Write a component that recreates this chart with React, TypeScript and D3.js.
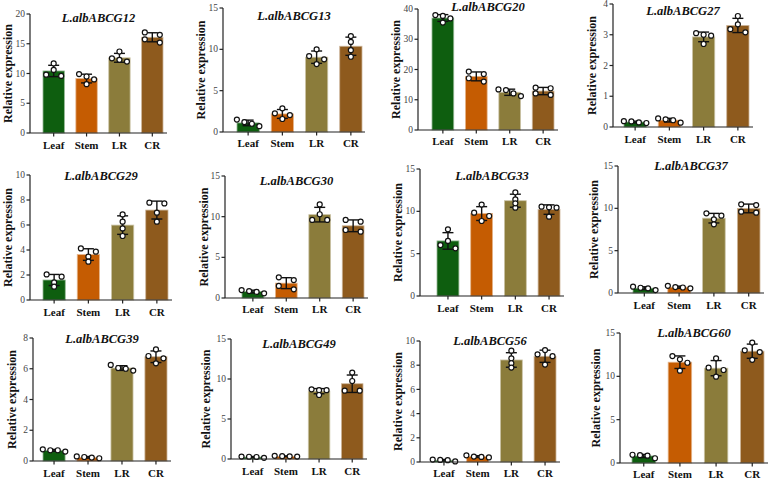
import React from 'react';
import * as d3 from 'd3';

// tissues and genes
const tissues = ['Leaf', 'Stem', 'LR', 'CR'];
const genes = [
  'L.albABCG12', 'L.albABCG13', 'L.albABCG20', 'L.albABCG27',
  'L.albABCG29', 'L.albABCG30', 'L.albABCG33', 'L.albABCG37',
  'L.albABCG39', 'L.albABCG49', 'L.albABCG56', 'L.albABCG60',
];
const yMax = [20, 15, 40, 4, 10, 15, 15, 15, 8, 15, 10, 15];
const yStep = [5, 5, 10, 1, 2, 5, 5, 5, 2, 5, 2, 5];

// replicates per tissue (Leaf, Stem, LR, CR)
const g12 = [[11.7, 10.6, 9.6, 9.8], [9.9, 9.5, 9.0, 8.2], [13.7, 12.55, 12.0, 12.3], [16.9, 16.5, 15.75, 15.2]];
const g13 = [[0.7, 1.0, 1.2, 1.5], [2.86, 2.05, 2.26, 1.57], [10.0, 9.19, 8.79, 8.22], [11.6, 10.9, 9.9, 9.1]];
const g20 = [[38.0, 37.7, 36.9, 35.5], [19.3, 18.5, 17.1, 16.0], [13.4, 13.2, 11.2, 12.1], [11.6, 14.0, 13.8, 12.1]];
const g27 = [[0.13, 0.19, 0.15, 0.18], [0.14, 0.28, 0.22, 0.25], [3.05, 3.0, 2.97, 2.7], [3.61, 3.34, 3.08, 3.18]];
const g29 = [[2.05, 1.87, 1.41, 1.07], [4.13, 3.87, 3.47, 3.07], [6.85, 6.27, 5.73, 5.12], [7.79, 7.73, 6.99, 6.27]];
const g30 = [[0.57, 0.98, 0.85, 0.75], [2.54, 2.21, 1.48, 1.07], [11.5, 10.3, 9.6, 9.6], [9.6, 9.39, 8.16, 8.36]];
const g33 = [[7.87, 6.5, 6.02, 5.63], [10.8, 9.84, 9.45, 8.86], [12.24, 11.41, 10.43, 10.94], [10.47, 10.55, 10.43, 9.37]];
const g37 = [[0.35, 0.75, 0.55, 0.62], [0.55, 0.85, 0.65, 0.7], [9.41, 9.13, 8.7, 8.11], [10.39, 10.47, 9.49, 9.6]];
const g39 = [[0.61, 0.76, 0.7, 0.7], [0.18, 0.3, 0.22, 0.26], [5.88, 6.0, 6.05, 6.25], [7.26, 6.83, 6.68, 6.35]];
const g49 = [[0.15, 0.3, 0.25, 0.28], [0.3, 0.4, 0.35, 0.33], [8.71, 8.6, 8.6, 8.0], [10.8, 9.75, 8.54, 8.54]];
const g56 = [[0.05, 0.2, 0.15, 0.17], [0.38, 0.55, 0.42, 0.45], [9.2, 8.57, 8.16, 7.8], [9.25, 8.9, 8.75, 8.05]];
const g60 = [[0.55, 0.95, 0.85, 0.9], [11.96, 12.34, 11.57, 10.65], [12.08, 11.0, 10.73, 9.96], [13.9, 13.0, 12.8, 11.9]];
const reps = [g12, g13, g20, g27, g29, g30, g33, g37, g39, g49, g56, g60];

const colors = ['#0e5e0f', '#c55c02', '#8b7c3b', '#8e5a1d'];

// panel layout (pixels): axis x, top tick y, zero y, first/last bar edge, axis end, title/category baselines, y-label x
const panels = [
  { x: 30, top: 14, zero: 133, b0: 43, b1: 163, end: 167, title: 22, cat: 149, yl: 8 },
  { x: 223, top: 8, zero: 132, b0: 237, b1: 362, end: 365, title: 20, cat: 147, yl: 201 },
  { x: 418, top: 9, zero: 130, b0: 432, b1: 554, end: 558, title: 11, cat: 145, yl: 396 },
  { x: 613, top: 4, zero: 127, b0: 624, b1: 749, end: 753, title: 15, cat: 143, yl: 592 },
  { x: 30, top: 175, zero: 300, b0: 43, b1: 168, end: 172, title: 180, cat: 316, yl: 8 },
  { x: 225, top: 176, zero: 298, b0: 242, b1: 364, end: 368, title: 185, cat: 313, yl: 204 },
  { x: 420, top: 169, zero: 296, b0: 437, b1: 560, end: 564, title: 180, cat: 312, yl: 398 },
  { x: 618, top: 166, zero: 293, b0: 633, b1: 760, end: 764, title: 170, cat: 309, yl: 594 },
  { x: 33, top: 338, zero: 461, b0: 43, b1: 167, end: 171, title: 343, cat: 477, yl: 12 },
  { x: 231, top: 339, zero: 459, b0: 242, b1: 363, end: 367, title: 348, cat: 475, yl: 206 },
  { x: 420, top: 341, zero: 462, b0: 433, b1: 556, end: 560, title: 345, cat: 477, yl: 398 },
  { x: 620, top: 333, zero: 463, b0: 632, b1: 764, end: 768, title: 337, cat: 478, yl: 596 },
];

const serif = "'Liberation Serif', 'DejaVu Serif', 'Times New Roman', Times, serif";
const R = 2.5;
const DX = 7.5;

// spread close points sideways, centred on the bar
function jitter(ys: number[]) {
  const idx = ys.map((y, i) => i).sort((a, b) => ys[a] - ys[b]);
  const off = new Array(ys.length).fill(0);
  let group: number[] = [];
  const flush = () => {
    const n = group.length;
    const step = n === 2 ? DX * 2 : DX;
    group.forEach((k, j) => (off[k] = (j - (n - 1) / 2) * step));
    group = [];
  };
  idx.forEach((k, j) => {
    if (j > 0 && Math.abs(ys[k] - ys[idx[j - 1]]) > 3.5) flush();
    group.push(k);
  });
  flush();
  return off;
}

function Panel({ i }: { i: number }) {
  const p = panels[i];
  const y = d3.scaleLinear().domain([0, yMax[i]]).range([p.zero, p.top]);
  const x = d3.scaleBand().domain(tissues).range([p.b0, p.b1]).paddingInner(0.35).paddingOuter(0);
  const ticks = d3.range(0, yMax[i] + yStep[i] / 2, yStep[i]);
  const bw = x.bandwidth();
  return (
    <g>
      {reps[i].map((vals, t) => {
        const m = d3.mean(vals) as number;
        const sd = d3.deviation(vals) as number;
        const cx = (x(tissues[t]) as number) + bw / 2;
        const py = vals.map((v) => y(v));
        const off = jitter(py);
        const fill = colors[t];
        return (
          <g key={t}>
            <rect x={x(tissues[t])} y={y(m)} width={bw} height={p.zero - y(m)} fill={fill}
              stroke={d3.interpolateRgb(fill, '#ffffff')(0.55)} strokeWidth={0.8} />
            <g stroke="#111" strokeWidth={1.4} fill="none">
              <line x1={cx} x2={cx} y1={y(m + sd)} y2={y(Math.max(0, m - sd))} />
              <line x1={cx - 5.5} x2={cx + 5.5} y1={y(m + sd)} y2={y(m + sd)} />
              <line x1={cx - 5.5} x2={cx + 5.5} y1={y(m - sd)} y2={y(m - sd)} />
            </g>
            {vals.map((v, k) => (
              <circle key={k} cx={cx + off[k]} cy={py[k]} r={R} fill="#fff" stroke="#111" strokeWidth={1.2} />
            ))}
          </g>
        );
      })}
      {/* axes */}
      <g stroke="#222" strokeWidth={1.2}>
        <line x1={p.x} x2={p.x} y1={p.top} y2={p.zero} />
        <line x1={p.x} x2={p.end} y1={p.zero} y2={p.zero} />
        {ticks.map((t) => (
          <line key={t} x1={p.x - 3.5} x2={p.x} y1={y(t)} y2={y(t)} />
        ))}
        {tissues.map((t) => (
          <line key={t} x1={(x(t) as number) + bw / 2} x2={(x(t) as number) + bw / 2} y1={p.zero} y2={p.zero + 3.5} />
        ))}
      </g>
      {ticks.map((t) => (
        <text key={t} x={p.x - 5} y={y(t)} dy="0.33em" textAnchor="end" fontSize={9.5} fill="#444"
          style={{ fontFamily: serif }}>
          {t}
        </text>
      ))}
      {tissues.map((t) => (
        <text key={t} x={(x(t) as number) + bw / 2} y={p.cat} textAnchor="middle" fontSize={11}
          fontWeight="bold" fill="#111" style={{ fontFamily: serif }}>
          {t}
        </text>
      ))}
      <text x={(p.x + p.end) / 2} y={p.title} textAnchor="middle" fontSize={12.5} fontWeight="bold"
        fontStyle="italic" fill="#111" style={{ fontFamily: serif }}>
        {genes[i]}
      </text>
      <text transform={`translate(${p.yl},${(p.top + p.zero) / 2}) rotate(-90)`} textAnchor="middle"
        dominantBaseline="central" fontSize={12} fontWeight="bold" fill="#111" style={{ fontFamily: serif }}>
        Relative expression
      </text>
    </g>
  );
}

export default function App() {
  return (
    <svg width={778} height={480} style={{ position: 'absolute', left: 0, top: 0, background: '#fff' }}>
      {genes.map((g, i) => (
        <Panel key={g} i={i} />
      ))}
    </svg>
  );
}
